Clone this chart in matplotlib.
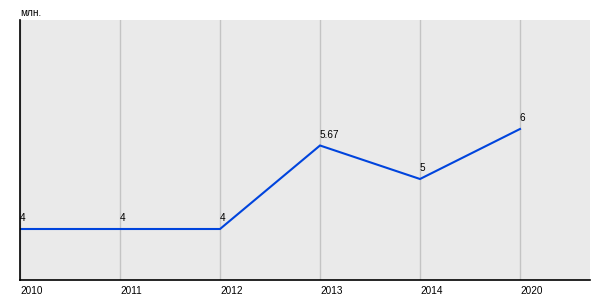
import matplotlib
matplotlib.use('Agg')
from matplotlib import pyplot as plt

years = ['2010', '2011', '2012', '2013', '2014', '2020']
values = [4, 4, 4, 5.67, 5, 6]
labels = ['4', '4', '4', '5.67', '5', '6']

plt.rcParams['font.family'] = ['Liberation Sans', 'DejaVu Sans']

fig = plt.figure(figsize=(6, 3), dpi=100)
ax = fig.add_axes([20 / 600, 20 / 300, 570 / 600, 260 / 300])
ax.set_facecolor('#eaeaea')

xs = list(range(len(years)))
ax.plot(xs, values, color='#0044dd', lw=1.5, solid_joinstyle='miter')
for x, v, t in zip(xs, values, labels):
  ax.annotate(t, (x, v), xytext=(0, 4), textcoords='offset points',
              fontsize=7.2, ha='left', va='bottom')

ax.set_xlim(0, 5.7)
ax.set_ylim(2.98, 8.18)
ax.set_xticks(xs)
ax.set_xticklabels(years, fontsize=7.2, ha='left')
ax.set_yticks([])
ax.tick_params(axis='x', length=0, pad=4)
ax.grid(axis='x', color='#c4c4c4', lw=1)
ax.set_axisbelow(True)
for s in ['top', 'right']:
  ax.spines[s].set_visible(False)
ax.spines['left'].set_linewidth(1.2)
ax.spines['bottom'].set_linewidth(1.2)

fig.text(20 / 600, 1 - 13 / 300, 'млн.', fontsize=7.2, va='center', ha='left')

fig.savefig('out.png', dpi=100)
